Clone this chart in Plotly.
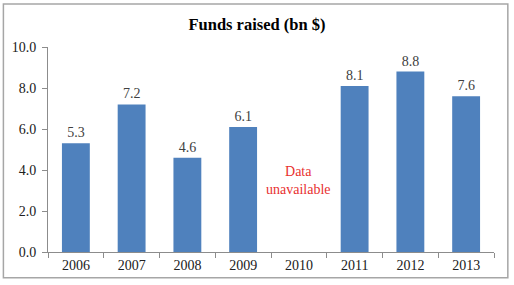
import plotly.graph_objects as go

years = ["2006", "2007", "2008", "2009", "2010", "2011", "2012", "2013"]
funds = [5.3, 7.2, 4.6, 6.1, None, 8.1, 8.8, 7.6]
labels = ["5.3", "7.2", "4.6", "6.1", "", "8.1", "8.8", "7.6"]
note_year = "2010"
note_text = "Data<br>unavailable"

fig = go.Figure(go.Bar(
    x=years, y=funds,
    text=labels, textposition="outside", cliponaxis=False,
    textfont=dict(family="Liberation Serif", size=14, color="#404040"),
    marker=dict(color="#4F81BD", line=dict(width=0)),
))

fig.add_annotation(x=years.index(note_year), y=3.5, text=note_text, showarrow=False,
                   font=dict(family="Liberation Serif", size=14, color="#E8312F"))

fig.add_shape(type="rect", xref="paper", yref="paper",
              x0=-0.1, x1=1.031, y0=-0.125, y1=1.21,
              line=dict(color="#A6A6A6", width=1.5))

fig.update_layout(
    width=514, height=285,
    margin=dict(l=48, r=20, t=47, b=30),
    paper_bgcolor="white", plot_bgcolor="white",
    showlegend=False, bargap=0.5,
    title=dict(text="<b>Funds raised (bn $)</b>", x=0.5, xanchor="center",
               y=0.915, yanchor="middle",
               font=dict(family="Liberation Serif", size=16.5, color="black")),
    font=dict(family="Liberation Serif", size=14, color="#202020"),
    xaxis=dict(type="category", categoryorder="array", categoryarray=years,
               range=[-0.5, len(years) - 0.5],
               showline=True, linecolor="#8C8C8C", linewidth=1,
               ticks="outside", tickson="boundaries", ticklen=5, tickcolor="#8C8C8C",
               showgrid=False, tickangle=0),
    yaxis=dict(range=[0, 10], tickvals=[0, 2, 4, 6, 8, 10], tickformat=".1f",
               showline=True, linecolor="#8C8C8C", linewidth=1,
               ticks="outside", ticklen=5, tickcolor="#8C8C8C",
               ticklabelstandoff=3,
               showgrid=False, zeroline=False),
)

fig.write_html("out.html")
